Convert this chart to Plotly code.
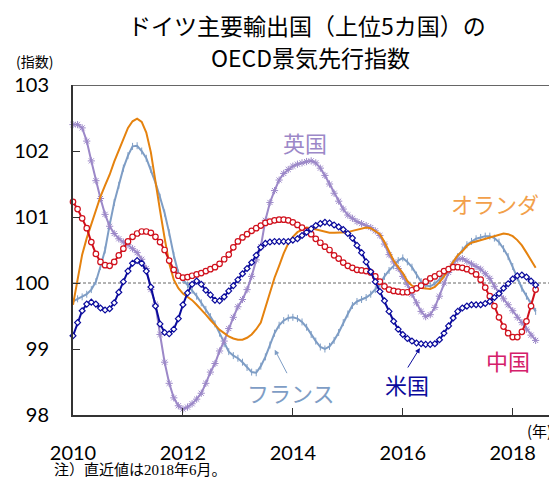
import plotly.graph_objects as go
import pandas as pd

# Monthly OECD CLI, Jan 2010 - Jun 2018
start_month = "2010-01"
n_months = 102

uk = [102.40, 102.40, 102.35, 102.15, 101.85, 101.55, 101.28, 101.04, 100.86, 100.75, 100.67, 100.62,
      100.58, 100.52, 100.46, 100.36, 100.22, 99.90, 99.68, 99.22, 98.80, 98.48, 98.26, 98.14,
      98.09, 98.12, 98.17, 98.24, 98.33, 98.48, 98.65, 98.78, 98.97, 99.12, 99.31, 99.48,
      99.64, 99.75, 99.90, 100.10, 100.35, 100.55, 100.95, 101.22, 101.40, 101.56, 101.66, 101.72,
      101.77, 101.80, 101.82, 101.84, 101.85, 101.82, 101.74, 101.63, 101.50, 101.36, 101.24, 101.12,
      101.03, 100.98, 100.93, 100.90, 100.87, 100.84, 100.79, 100.72, 100.59, 100.43, 100.32, 100.22,
      100.10, 99.98, 99.83, 99.70, 99.57, 99.49, 99.52, 99.63, 99.80, 100.00, 100.16, 100.29,
      100.36, 100.37, 100.33, 100.29, 100.25, 100.21, 100.14, 100.07, 99.95, 99.85, 99.76, 99.67,
      99.58, 99.48, 99.40, 99.30, 99.21, 99.13]

france = [99.72, 99.76, 99.79, 99.83, 99.90, 100.02, 100.25, 100.50, 100.88, 101.22, 101.48, 101.74,
          101.93, 102.07, 102.08, 102.00, 101.89, 101.72, 101.52, 101.30, 101.06, 100.76, 100.42, 100.15,
          100.05, 99.97, 99.89, 99.80, 99.70, 99.60, 99.49, 99.38, 99.24, 99.08, 98.96, 98.90,
          98.86, 98.80, 98.72, 98.65, 98.64, 98.74, 98.88, 99.06, 99.24, 99.36, 99.43, 99.47,
          99.48, 99.46, 99.41, 99.33, 99.22, 99.12, 99.03, 99.00, 99.04, 99.13, 99.25, 99.40,
          99.53, 99.66, 99.72, 99.75, 99.78, 99.83, 99.90, 99.98, 100.10, 100.19, 100.26, 100.34,
          100.38, 100.32, 100.24, 100.12, 100.02, 99.96, 99.95, 99.99, 100.05, 100.12, 100.20, 100.30,
          100.40, 100.50, 100.58, 100.63, 100.67, 100.69, 100.71, 100.71, 100.68, 100.62, 100.52, 100.40,
          100.25, 100.08, 99.92, 99.80, 99.68, 99.57]

netherlands = [99.67, 100.08, 100.43, 100.68, 100.90, 101.10, 101.31, 101.48, 101.64, 101.84, 102.02, 102.20,
               102.35, 102.45, 102.49, 102.44, 102.28, 101.98, 101.52, 101.10, 100.68, 100.30, 100.05, 99.92,
               99.84, 99.79, 99.74, 99.67, 99.60, 99.52, 99.44, 99.36, 99.29, 99.24, 99.19, 99.16,
               99.14, 99.14, 99.17, 99.22, 99.30, 99.40, 99.62, 99.85, 100.08, 100.26, 100.45, 100.60,
               100.70, 100.77, 100.81, 100.84, 100.83, 100.81, 100.79, 100.77, 100.76, 100.76, 100.76, 100.76,
               100.77, 100.79, 100.81, 100.83, 100.84, 100.83, 100.79, 100.74, 100.62, 100.47, 100.34, 100.24,
               100.15, 100.03, 99.96, 99.93, 99.92, 99.91, 99.91, 99.94, 100.01, 100.10, 100.22, 100.32,
               100.42, 100.48, 100.56, 100.61, 100.63, 100.65, 100.68, 100.70, 100.72, 100.73, 100.75, 100.74,
               100.71, 100.65, 100.57, 100.46, 100.35, 100.23]

china = [101.23, 101.12, 100.98, 100.83, 100.62, 100.44, 100.32, 100.27, 100.26, 100.32, 100.42, 100.52,
         100.63, 100.70, 100.75, 100.78, 100.78, 100.76, 100.70, 100.62, 100.50, 100.34, 100.20, 100.11,
         100.08, 100.09, 100.11, 100.13, 100.15, 100.18, 100.21, 100.24, 100.29, 100.36, 100.43, 100.54,
         100.63, 100.69, 100.74, 100.79, 100.83, 100.87, 100.91, 100.93, 100.95, 100.96, 100.96, 100.95,
         100.92, 100.88, 100.84, 100.79, 100.74, 100.67, 100.61, 100.55, 100.50, 100.42, 100.37, 100.31,
         100.26, 100.23, 100.20, 100.19, 100.18, 100.16, 100.10, 100.02, 99.95, 99.90, 99.88, 99.87,
         99.86, 99.86, 99.89, 99.92, 99.96, 100.02, 100.07, 100.10, 100.14, 100.18, 100.21, 100.24,
         100.24, 100.23, 100.21, 100.18, 100.13, 100.05, 99.93, 99.80, 99.65, 99.48, 99.34, 99.24,
         99.18, 99.18, 99.26, 99.42, 99.65, 99.90]

us = [99.20, 99.40, 99.58, 99.68, 99.71, 99.68, 99.62, 99.59, 99.61, 99.70, 99.86, 100.02,
      100.18, 100.30, 100.34, 100.30, 100.18, 99.94, 99.65, 99.38, 99.25, 99.23, 99.30, 99.46,
      99.67, 99.85, 99.98, 100.03, 99.98, 99.89, 99.82, 99.74, 99.73, 99.79, 99.88, 99.96,
      100.05, 100.14, 100.22, 100.31, 100.42, 100.54, 100.60, 100.62, 100.63, 100.63, 100.63, 100.63,
      100.65, 100.67, 100.72, 100.77, 100.82, 100.87, 100.90, 100.92, 100.91, 100.88, 100.85, 100.81,
      100.75, 100.68, 100.57, 100.46, 100.32, 100.17, 100.02, 99.87, 99.73, 99.57, 99.42, 99.30,
      99.22, 99.16, 99.12, 99.09, 99.08, 99.07, 99.07, 99.08, 99.14, 99.24, 99.35, 99.47,
      99.57, 99.62, 99.65, 99.67, 99.67, 99.67, 99.69, 99.72, 99.78, 99.84, 99.92, 99.99,
      100.06, 100.11, 100.12, 100.09, 100.03, 99.97]

x_ticks = [2010, 2012, 2014, 2016, 2018]
x_ticklabels = ["2010", "2012", "2014", "2016", "2018"]
y_ticks = [98, 99, 100, 101, 102, 103]

# decimal-year positions for each month
months = pd.period_range(start_month, periods=n_months, freq="M")
t = [p.year + (p.month - 1) / 12 for p in months]

JP = "Noto Sans CJK JP, sans-serif"
NUM = "Lato, Noto Sans, sans-serif"

fig = go.Figure()

fig.add_trace(go.Scatter(x=t, y=france, mode="lines+markers", name="フランス",
                         line=dict(color="#7E9DC5", width=2),
                         marker=dict(symbol="line-ns-open", size=5, color="#7E9DC5",
                                     line=dict(color="#7E9DC5", width=1)),
                         cliponaxis=False))
fig.add_trace(go.Scatter(x=t, y=uk, mode="lines+markers", name="英国",
                         line=dict(color="#9C88C8", width=2),
                         marker=dict(symbol="asterisk-open", size=6, color="#9C88C8",
                                     line=dict(color="#9C88C8", width=1)),
                         cliponaxis=False))
fig.add_trace(go.Scatter(x=t, y=netherlands, mode="lines", name="オランダ",
                         line=dict(color="#E5820E", width=2),
                         cliponaxis=False))
fig.add_trace(go.Scatter(x=t, y=china, mode="lines+markers", name="中国",
                         line=dict(color="#D0101C", width=2),
                         marker=dict(symbol="circle", size=5.5, color="white",
                                     line=dict(color="#D0101C", width=1.2)),
                         cliponaxis=False))
fig.add_trace(go.Scatter(x=t, y=us, mode="lines+markers", name="米国",
                         line=dict(color="#0A0A9C", width=2),
                         marker=dict(symbol="diamond", size=4.5, color="white",
                                     line=dict(color="#0A0A9C", width=1.2)),
                         cliponaxis=False))

# reference line at 100 and top border
fig.add_shape(type="line", xref="paper", x0=0, x1=1, yref="y", y0=100, y1=100,
              line=dict(color="#666666", width=1, dash="3px,2px"), layer="below")
fig.add_shape(type="line", xref="paper", x0=0, x1=1, yref="y", y0=103, y1=103,
              line=dict(color="#333333", width=1.5))

ann = []
lab = dict(showarrow=False, xanchor="center", yanchor="middle")
ann.append(dict(x=2014.217, y=102.14, text="英国", font=dict(family=JP, size=22, color="#9C88C8"), **lab))
ann.append(dict(x=2017.678, y=101.217, text="オランダ", font=dict(family=JP, size=22, color="#F2A04A"), **lab))
ann.append(dict(x=2013.962, y=98.353, text="フランス", font=dict(family=JP, size=22, color="#7E9DC5"), **lab))
ann.append(dict(x=2016.075, y=98.474, text="米国", font=dict(family=JP, size=22, color="#0A0A9C"), **lab))
ann.append(dict(x=2017.915, y=98.84, text="中国", font=dict(family=JP, size=22, color="#D4206A"), **lab))
# arrows
ann.append(dict(x=2013.67, y=98.99, text="", showarrow=True, ax=13, ay=25,
                arrowhead=2, arrowsize=1, arrowwidth=1, arrowcolor="#7E9DC5"))
ann.append(dict(x=2016.311, y=99.015, text="", showarrow=True, ax=-13, ay=21,
                arrowhead=2, arrowsize=1, arrowwidth=1, arrowcolor="#0A0A9C"))
# titles and notes
ann.append(dict(xref="paper", yref="paper", x=0.491, y=1.1818, text="ドイツ主要輸出国（上位5カ国）の",
                font=dict(family=JP, size=23, color="black"), **lab))
ann.append(dict(xref="paper", yref="paper", x=0.498, y=1.0848, text="OECD景気先行指数",
                font=dict(family=JP, size=23, color="black"), **lab))
ann.append(dict(xref="paper", yref="paper", x=-0.08, y=1.072, text="(指数)",
                font=dict(family=JP, size=14, color="black"), **lab))
ann.append(dict(xref="paper", yref="paper", x=0.95, y=-0.048, text="(年)", showarrow=False,
                xanchor="left", yanchor="middle", font=dict(family=JP, size=15, color="black")))
ann.append(dict(xref="paper", yref="paper", x=-0.044, y=-0.168, text="注）直近値は2018年6月。",
                showarrow=False, xanchor="left", yanchor="middle",
                font=dict(family="Liberation Serif, Noto Sans CJK JP, serif", size=15, color="black")))

fig.update_layout(
    width=549, height=478,
    margin=dict(l=73, r=0, t=85, b=63),
    paper_bgcolor="white", plot_bgcolor="white",
    showlegend=False,
    annotations=ann,
    xaxis=dict(range=[2010, 2018.66], tickvals=x_ticks, ticktext=x_ticklabels,
               showgrid=False, zeroline=False, showline=True, linecolor="#333333", linewidth=2,
               ticks="inside", ticklen=7, tickcolor="#333333", tickwidth=1,
               ticklabelstandoff=19,
               tickfont=dict(family=NUM, size=20, color="black")),
    yaxis=dict(range=[98, 103], tickvals=y_ticks,
               showgrid=False, zeroline=False, showline=True, linecolor="#333333", linewidth=2,
               ticks="inside", ticklen=7, tickcolor="#333333", tickwidth=1,
               ticklabelstandoff=18,
               tickfont=dict(family=NUM, size=20, color="black")),
)

fig.write_html("out.html", config={"displayModeBar": False},
               post_script="document.body.style.margin='0';")
